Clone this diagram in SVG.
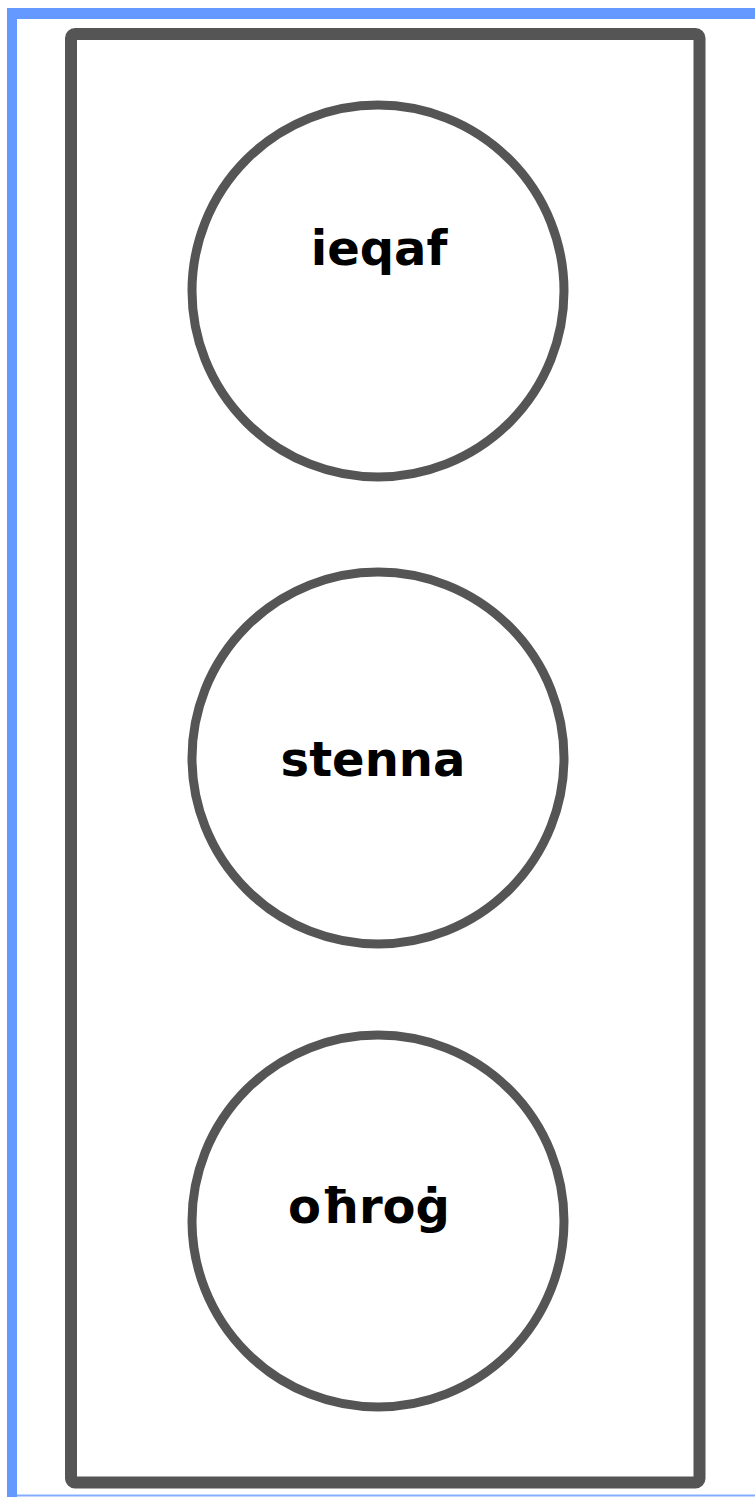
<svg xmlns="http://www.w3.org/2000/svg" width="755" height="1497" viewBox="0 0 755 1497">
<style>
.node circle{fill:#fff;stroke:#555;stroke-width:9}
.lbl{font-family:"Comic Sans MS","DejaVu Sans",sans-serif;font-weight:bold;font-size:48px;fill:#000;text-anchor:middle}
</style>
<rect x="0" y="0" width="755" height="1497" fill="#fff"/>
<g id="frame">
<rect x="7" y="8" width="10" height="1489" fill="#6699ff"/>
<rect x="7" y="8" width="748" height="11" fill="#6699ff"/>
<rect x="17" y="1494.5" width="738" height="2" fill="#6699ff" opacity="0.8"/>
</g>
<g id="container">
<rect x="71" y="34" width="628.5" height="1448.5" rx="4" fill="#fff" stroke="#555" stroke-width="12"/>
</g>
<g id="connectors"></g>
<g id="node1" class="node">
<circle cx="378" cy="291" r="186"/>
<text class="lbl" x="379" y="265">ieqaf</text>
</g>
<g id="node2" class="node">
<circle cx="378" cy="758" r="186"/>
<text class="lbl" x="373" y="776">stenna</text>
</g>
<g id="node3" class="node">
<circle cx="378" cy="1221" r="186"/>
<text class="lbl" x="369" y="1223">oħroġ</text>
</g>
</svg>
